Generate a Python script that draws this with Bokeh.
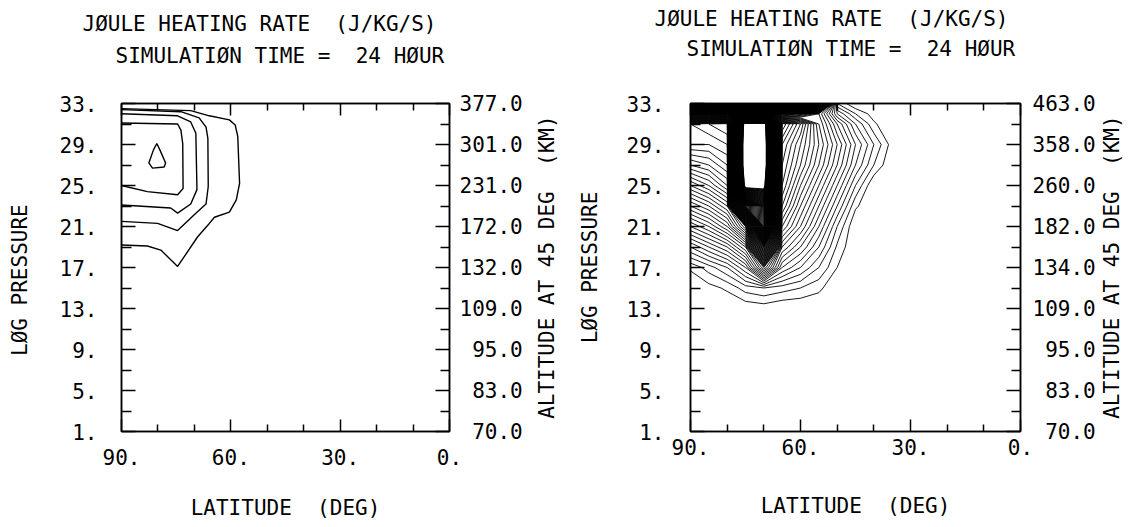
import math
import numpy as np
from bokeh.plotting import figure
from bokeh.models import Range1d, LinearAxis, FixedTicker, Title
from bokeh.layouts import row
from bokeh.embed import file_html
from bokeh.resources import INLINE

FONT = "DejaVu Sans Mono"
FS = "21px"
NB = "\u00a0"

# ---------------- axis data ----------------
lat_ticks = [90, 60, 30, 0]
lat_minor = [80, 70, 50, 40, 20, 10]
lat_labels = ["90.", "60.", "30.", "0."]
lp_ticks = [1, 5, 9, 13, 17, 21, 25, 29, 33]
lp_minor = [3, 7, 11, 15, 19, 23, 27, 31]
lp_labels = ["1.", "5.", "9.", "13.", "17.", "21.", "25.", "29.", "33."]
alt_labels_a = ["70.0", "83.0", "95.0", "109.0", "132.0", "172.0", "231.0", "301.0", "377.0"]
alt_labels_b = ["70.0", "83.0", "95.0", "109.0", "134.0", "182.0", "260.0", "358.0", "463.0"]

title_1 = "JØULE HEATING RATE" + NB * 2 + "(J/KG/S)"
title_2 = "SIMULATIØN TIME =" + NB * 2 + "24 HØUR"
x_title = "LATITUDE" + NB * 2 + "(DEG)"
y_title = "LØG PRESSURE"
alt_title = "ALTITUDE AT 45 DEG" + NB * 2 + "(KM)"

# ---------------- left panel: contour lines (lat, log pressure) ----------------
a_lat = [90, 71.0, 65.9, 60.4, 58.8, 58.1, 57.6, 58.5, 60.4, 64.5, 65.9, 69.1, 74.6, 79.2, 82.9, 90]
a_lp = [32.5, 32.3, 31.8, 31.4, 30.9, 29.8, 25.2, 23.6, 22.4, 21.9, 21.3, 20.0, 17.1, 18.7, 19.1, 19.2]
b_lat = [90, 73.7, 68.7, 66.8, 66.3, 66.2, 66.8, 69.6, 74.6, 80.1, 90]
b_lp = [32.4, 32.2, 31.6, 30.7, 29.6, 24.9, 23.2, 22.3, 20.6, 21.3, 21.5]
c_lat = [90, 74.6, 71.0, 69.6, 69.3, 71.0, 74.6, 76.5, 90]
c_lp = [32.0, 31.8, 31.2, 30.1, 24.6, 23.2, 22.3, 22.8, 23.1]
d_lat = [90, 74.6, 73.7, 73.2, 73.1, 74.6, 82.9, 90]
d_lp = [31.1, 31.0, 30.4, 29.1, 24.7, 24.1, 24.4, 25.0]
e_lat = [80.3, 79.5, 77.9, 78.3, 81.5, 82.5, 81.2, 80.3]
e_lp = [29.1, 28.5, 27.2, 26.8, 26.7, 27.2, 28.5, 29.1]

# ---------------- right panel: gridded heating field ----------------
grid_lat = [90, 85, 80, 75, 70, 65, 60, 55, 50, 45, 40, 35, 30]
grid_lp = [33, 32, 31, 29, 27, 25, 23, 21, 19, 17, 15, 13, 11, 9, 7, 5, 3, 1]
field = [
    [125, 125, 125, 125, 125, 125, 122, 40, 2, 0, 0, 0, 0],
    [5, 5, 5, 5, 5, 5, 8, 12, 5, 2, 0.5, 0, 0],
    [30, 31, 32, 130, 130, 25, 20, 13, 8, 4, 1.2, 0, 0],
    [29, 29, 30, 135, 135, 22, 18, 14, 10, 6, 3, 0.5, 0],
    [25, 26, 28, 135, 135, 21, 17, 13, 9, 5, 2, 0, 0],
    [20, 22, 25, 126, 126, 20, 15, 11, 7, 3, 0, 0, 0],
    [15, 17, 20, 70, 90, 18, 13, 9, 5, 1.2, 0, 0, 0],
    [10, 12, 15, 22, 70, 15, 11, 7, 3, 0, 0, 0, 0],
    [5, 7, 9, 13, 40, 11, 8, 5, 1.8, 0, 0, 0, 0],
    [1.2, 2.5, 4, 7, 15, 7, 5, 3, 1.0, 0, 0, 0, 0],
    [0, 0.6, 1.2, 2.5, 3, 2.5, 2, 1.3, 0, 0, 0, 0, 0],
    [0, 0, 0, 0.2, 0.4, 0, 0, 0, 0, 0, 0, 0, 0],
    [0, 0, 0, 0, 0, 0, 0, 0, 0, 0, 0, 0, 0],
    [0, 0, 0, 0, 0, 0, 0, 0, 0, 0, 0, 0, 0],
    [0, 0, 0, 0, 0, 0, 0, 0, 0, 0, 0, 0, 0],
    [0, 0, 0, 0, 0, 0, 0, 0, 0, 0, 0, 0, 0],
    [0, 0, 0, 0, 0, 0, 0, 0, 0, 0, 0, 0, 0],
    [0, 0, 0, 0, 0, 0, 0, 0, 0, 0, 0, 0, 0],
]
contour_levels = list(range(1, 121))

HAS_ALIGN = "axis_label_align" in LinearAxis.properties()


def pad(s, n=5):
    return NB * (n - len(s)) + s


def style_axis(ax, ticks, minor, labels, tin, min_in, standoff, show_labels=True):
    ax.ticker = FixedTicker(ticks=ticks, minor_ticks=minor)
    ax.major_label_overrides = {t: l for t, l in zip(ticks, labels)}
    ax.major_tick_in = tin
    ax.major_tick_out = 0
    ax.minor_tick_in = min_in
    ax.minor_tick_out = 0
    ax.major_tick_line_color = "black"
    ax.minor_tick_line_color = "black"
    ax.major_tick_line_width = 1.5
    ax.minor_tick_line_width = 1.5
    ax.axis_line_color = "black"
    ax.axis_line_width = 1.5
    ax.major_label_text_font = FONT
    ax.major_label_text_font_size = FS if show_labels else "1px"
    ax.major_label_text_color = "black" if show_labels else None
    ax.major_label_standoff = standoff
    ax.axis_label_text_font = FONT
    ax.axis_label_text_font_size = FS
    ax.axis_label_text_font_style = "normal"
    ax.axis_label_text_color = "black"


def title(text, offset, standoff):
    return Title(text=text, align="left", offset=offset, standoff=standoff,
                 text_font=FONT, text_font_size=FS, text_font_style="normal", text_color="black")


def make_panel(alt_labels, width, left, right, s, ylabel):
    p = figure(width=width, height=527, output_backend="svg", toolbar_location=None,
               x_range=Range1d(90, 0), y_range=Range1d(1, 33), title=None,
               min_border_left=left, min_border_right=right,
               min_border_top=103, min_border_bottom=96)
    p.grid.visible = False
    p.outline_line_color = "black"
    p.outline_line_width = 1.5
    p.background_fill_color = "white"
    p.border_fill_color = "white"

    bx = p.xaxis[0]
    style_axis(bx, lat_ticks, lat_minor, lat_labels, 12, 7, s["bx"])
    bx.axis_label = x_title
    bx.axis_label_standoff = s["bxl"]

    ly = p.yaxis[0]
    style_axis(ly, lp_ticks, lp_minor, lp_labels, 14, 10, s["ly"])
    ly.axis_label = ylabel
    ly.axis_label_standoff = s["lyl"]

    ry = LinearAxis()
    style_axis(ry, lp_ticks, lp_minor, [pad(v) for v in alt_labels], 14, 9, s["ry"])
    if HAS_ALIGN:
        ry.axis_label = NB + alt_title
        ry.axis_label_orientation = math.pi / 2
        ry.axis_label_align = "start"
    else:
        ry.axis_label = alt_title
    ry.axis_label_standoff = s["ryl"]
    p.add_layout(ry, "right")

    tx = LinearAxis()
    style_axis(tx, lat_ticks, lat_minor, lat_labels, 12, 7, 0, show_labels=False)
    p.add_layout(tx, "above")

    # stacked outward from the frame: spacer, second line, first line
    p.add_layout(title(NB, 0, s["sp"]), "above")
    p.add_layout(title(title_2, s["t2x"], s["ts"]), "above")
    p.add_layout(title(title_1, s["t1x"], s["ts"]), "above")
    return p


p1 = make_panel(alt_labels_a, 573, 121, 124,
                dict(bx=17, bxl=28, ly=24, lyl=25, ry=10, ryl=21, sp=7, ts=6, t1x=-39, t2x=-6),
                y_title + NB * 2)
p1.multi_line(xs=[a_lat, b_lat, c_lat, d_lat, e_lat], ys=[a_lp, b_lp, c_lp, d_lp, e_lp],
              line_color="black", line_width=1.4)

p2 = make_panel(alt_labels_b, 565, 117, 118,
                dict(bx=7, bxl=36, ly=26, lyl=22, ry=12, ryl=13, sp=15, ts=4, t1x=-36, t2x=-4),
                y_title)
z = np.array(field, dtype=float)[::-1, ::-1]
p2.contour(x=np.array(grid_lat[::-1], dtype=float), y=np.array(grid_lp[::-1], dtype=float), z=z,
           levels=contour_levels, line_color="black", line_width=0.9)

layout = row(p1, p2)
open("out.html", "w").write(file_html(layout, INLINE))
